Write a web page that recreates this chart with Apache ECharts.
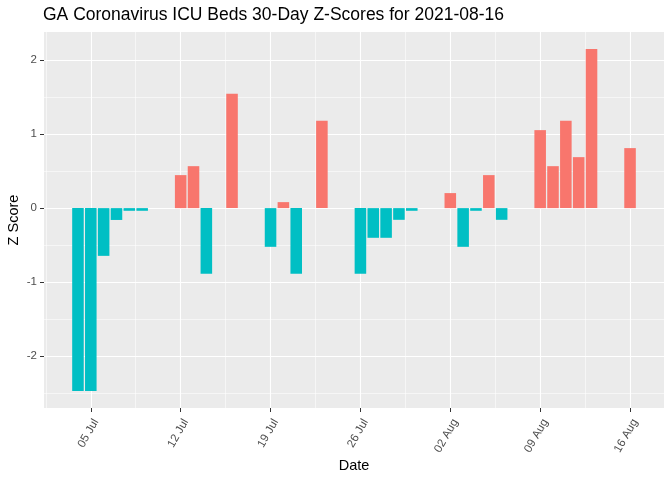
<!DOCTYPE html>
<html><head><meta charset="utf-8">
<script src="https://cdn.jsdelivr.net/npm/echarts@6/dist/echarts.min.js"></script>
<style>html,body{margin:0;padding:0;background:#fff}#c{width:672px;height:480px}</style>
</head><body><div id="c"></div>
<script>
const dates = ['2021-07-04','2021-07-05','2021-07-06','2021-07-07','2021-07-08','2021-07-09',
 '2021-07-12','2021-07-13','2021-07-14','2021-07-16',
 '2021-07-19','2021-07-20','2021-07-21','2021-07-23',
 '2021-07-26','2021-07-27','2021-07-28','2021-07-29','2021-07-30',
 '2021-08-02','2021-08-03','2021-08-04','2021-08-05','2021-08-06',
 '2021-08-09','2021-08-10','2021-08-11','2021-08-12','2021-08-13','2021-08-16'];
const zScores = [-2.47,-2.47,-0.645,-0.16,-0.036,-0.036,
 0.446,0.567,-0.888,1.545,
 -0.523,0.081,-0.888,1.18,
 -0.888,-0.401,-0.401,-0.158,-0.036,
 0.203,-0.523,-0.036,0.446,-0.158,
 1.054,0.567,1.18,0.689,2.149,0.811];
const xTickDates = ['2021-07-05','2021-07-12','2021-07-19','2021-07-26','2021-08-02','2021-08-09','2021-08-16'];
const xTickLabels = ['05 Jul','12 Jul','19 Jul','26 Jul','02 Aug','09 Aug','16 Aug'];
const yTicks = [-2,-1,0,1,2];
const yTickLabels = ['-2','-1','0','1','2'];

const origin = Date.UTC(2021,6,5);
function dayOf(s){ const p=s.split('-').map(Number); return (Date.UTC(p[0],p[1]-1,p[2])-origin)/86400000; }
const xTicks = xTickDates.map(dayOf);
// ggplot-like expansion (5%) around bar extents
const xs = dates.map(dayOf);
const xLo = Math.min(...xs)-0.45, xHi = Math.max(...xs)+0.45;
const xMin = xLo-(xHi-xLo)*0.05, xMax = xHi+(xHi-xLo)*0.05;
const yLo = Math.min(...zScores), yHi = Math.max(...zScores);
const yMin = yLo-(yHi-yLo)*0.05, yMax = yHi+(yHi-yLo)*0.05;
function minors(t, lo, hi){ const step=t[1]-t[0]; const out=[t[0]-step/2]; for(let i=0;i<t.length;i++) out.push(t[i]+step/2); return out.filter(v=>v>lo&&v<hi); }
const xMinor = minors(xTicks,xMin,xMax), yMinor = minors(yTicks,yMin,yMax);

const gridL=44, gridR=8, gridT=32, gridB=72;
const pxPerDay = (672-gridL-gridR)/(xMax-xMin);
const FONT = "'Liberation Sans', Arial, sans-serif";

const chart = echarts.init(document.getElementById('c'));
chart.setOption({
  animation:false,
  textStyle:{fontFamily:FONT},
  title:{text:'GA Coronavirus ICU Beds 30-Day Z-Scores for 2021-08-16', left:gridL-1, top:6, padding:0,
    textStyle:{fontFamily:FONT, fontSize:17.5, fontWeight:'normal', color:'#000'}},
  grid:{left:gridL,right:gridR,top:gridT,bottom:gridB,show:true,backgroundColor:'#EBEBEB',borderWidth:0,
    containLabel:false, outerBoundsMode:'none'},
  xAxis:[{
    type:'value', min:xMin, max:xMax, position:'bottom',
    name:'Date', nameLocation:'middle', nameGap:50, nameMoveOverlap:false,
    nameTextStyle:{fontFamily:FONT,fontSize:14.5,color:'#000'},
    axisLine:{show:false,onZero:false},
    axisTick:{show:true,length:4,lineStyle:{color:'#333',width:1},customValues:xTicks},
    axisLabel:{customValues:xTicks,rotate:60,margin:9,verticalAlign:'top',fontFamily:FONT,fontSize:11.5,color:'#4D4D4D',
      formatter:v=>{const i=xTicks.findIndex(t=>Math.abs(t-v)<1e-6);return i>=0?xTickLabels[i]:'';}},
    splitLine:{show:true,lineStyle:{color:'#fff',width:1.1}}
  },{
    type:'value', min:xMin, max:xMax, position:'top',
    axisLine:{show:false,onZero:false},
    axisTick:{show:false,customValues:xMinor},
    axisLabel:{show:false,customValues:xMinor},
    splitLine:{show:true,lineStyle:{color:'#fff',width:0.55}}
  }],
  yAxis:[{
    type:'value', min:yMin, max:yMax, position:'left',
    name:'Z Score', nameLocation:'middle', nameGap:23, nameRotate:90, nameMoveOverlap:false,
    nameTextStyle:{fontFamily:FONT,fontSize:14.5,color:'#000'},
    axisLine:{show:false,onZero:false},
    axisTick:{show:true,length:4,lineStyle:{color:'#333',width:1},customValues:yTicks},
    axisLabel:{customValues:yTicks,margin:7,fontFamily:FONT,fontSize:11.5,color:'#4D4D4D',
      formatter:v=>{const i=yTicks.findIndex(t=>Math.abs(t-v)<1e-6);return i>=0?yTickLabels[i]:'';}},
    splitLine:{show:true,lineStyle:{color:'#fff',width:1.1}}
  },{
    type:'value', min:yMin, max:yMax, position:'right',
    axisLine:{show:false,onZero:false},
    axisTick:{show:false,customValues:yMinor},
    axisLabel:{show:false,customValues:yMinor},
    splitLine:{show:true,lineStyle:{color:'#fff',width:0.55}}
  }],
  series:[{
    type:'bar', xAxisIndex:0, yAxisIndex:0,
    barWidth: 0.9*pxPerDay,
    data: dates.map((d,i)=>[dayOf(d), zScores[i]]),
    itemStyle:{color:p=>p.value[1]>0?'#F8766D':'#00BFC4'}
  }]
});
</script></body></html>
